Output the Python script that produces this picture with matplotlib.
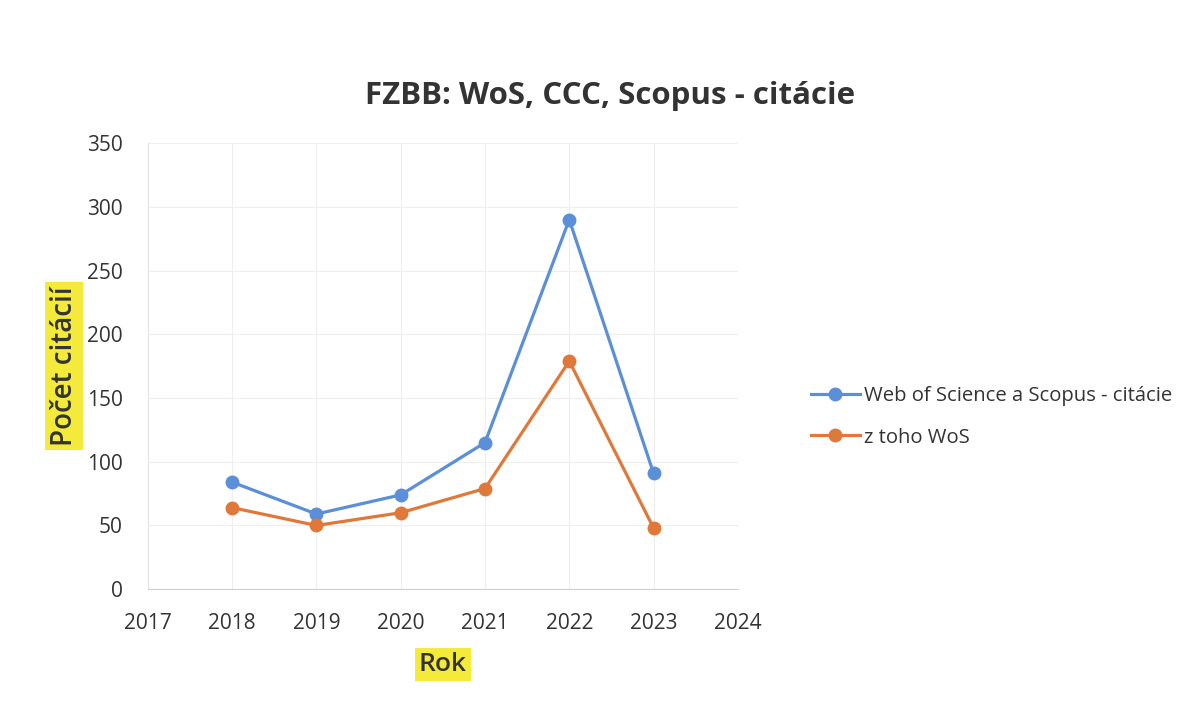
import matplotlib.pyplot as plt

# data
years = [2018, 2019, 2020, 2021, 2022, 2023]
wos_scopus = [84, 59, 74, 115, 290, 91]
wos_only = [64, 50, 60, 79, 179, 48]
series_labels = ["Web of Science a Scopus - citácie", "z toho WoS"]
title = "FZBB: WoS, CCC, Scopus - citácie"

plt.rcParams["font.family"] = ["Open Sans", "DejaVu Sans"]

fig = plt.figure(figsize=(11.92, 7.09), dpi=100)
ax = fig.add_axes([0.124, 0.169, 0.495, 0.629])

blue = "#5b8fd8"
orange = "#e0783a"
ax.plot(years, wos_scopus, "-o", color=blue, lw=2.3, ms=9, label=series_labels[0])
ax.plot(years, wos_only, "-o", color=orange, lw=2.3, ms=9, label=series_labels[1])

ax.set_xlim(2017, 2024)
ax.set_ylim(0, 350)
ax.set_xticks(range(2017, 2025))
ax.set_yticks(range(0, 351, 50))
ax.grid(True, color="#eeeeee", lw=0.8)
ax.set_axisbelow(True)
for s in ["top", "right"]:
    ax.spines[s].set_visible(False)
ax.spines["left"].set_color("#e4e4e4")
ax.spines["bottom"].set_color("#d0d0d0")
ax.tick_params(length=0, labelsize=15, colors="#333333")
ax.tick_params(axis="x", pad=17)
ax.tick_params(axis="y", pad=18)

ax.set_ylabel("Počet citácií", fontsize=20, fontweight="semibold", color="#333333",
              labelpad=6,
              bbox=dict(facecolor="#f3ea3c", edgecolor="none", pad=3))
ax.set_xlabel("Rok", fontsize=19, fontweight="semibold", color="#333333", labelpad=13,
              bbox=dict(facecolor="#f3ea3c", edgecolor="none", pad=3))

fig.text(0.512, 0.864, title, ha="center", va="center", fontsize=22.5,
         fontweight="bold", color="#333333")

fig.legend(loc="center left", bbox_to_anchor=(0.665, 0.412), frameon=False,
           fontsize=14.6, handlelength=2.4, labelspacing=1.05, handletextpad=0.2,
           labelcolor="#333333")

fig.savefig("out.png", dpi=100)
